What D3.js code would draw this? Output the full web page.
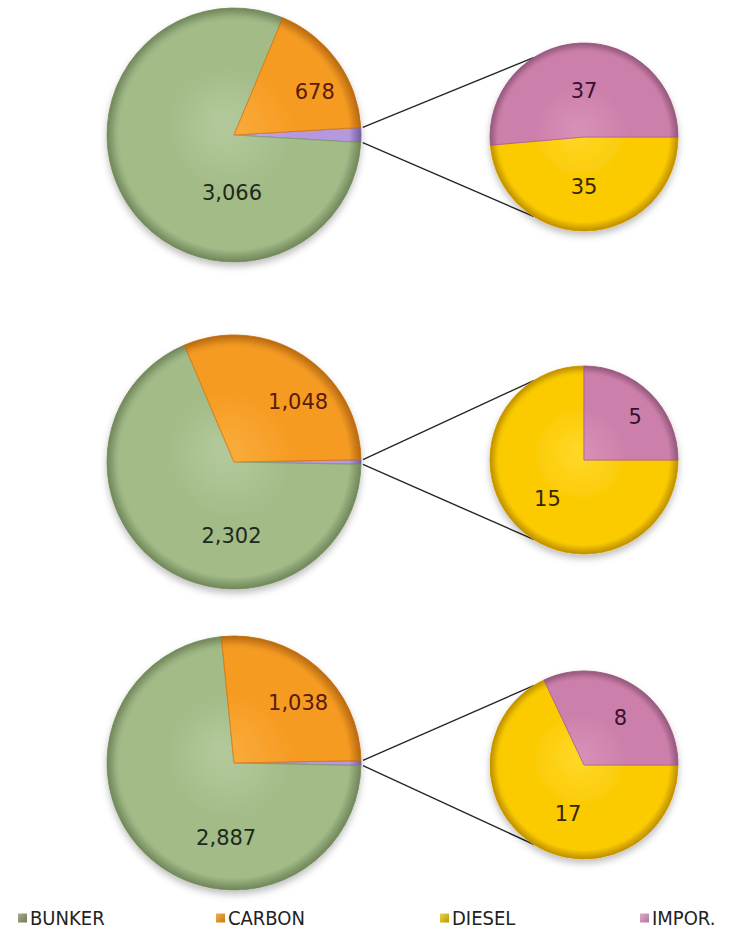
<!DOCTYPE html>
<html>
<head>
<meta charset="utf-8">
<script src="https://cdn.jsdelivr.net/npm/d3@7/dist/d3.min.js"></script>
<style>
  body { margin: 0; background: #ffffff; }
  svg { display: block; }
</style>
</head>
<body>
<svg id="chart" width="748" height="937"></svg>
<script>
// Series values, one entry per pie-of-pie row (top to bottom)
const categories = ["BUNKER", "CARBON", "DIESEL", "IMPOR."];
const bunker = [3066, 2302, 2887];
const carbon = [678, 1048, 1038];
const diesel = [35, 15, 17];
const impor  = [37, 5, 8];

// Look of each category
const palette = {
  "BUNKER": { light: "#b0c797", base: "#a2bb87", dark: "#86a06c", text: "#1e281c", key: ["#a9ad8c", "#73785a"] },
  "CARBON": { light: "#f9a832", base: "#f69b22", dark: "#d97e14", text: "#5a1a0c", key: ["#f2b04a", "#c77818"] },
  "DIESEL": { light: "#ffd61c", base: "#fbcb04", dark: "#e2aa00", text: "#352600", key: ["#ecd24a", "#b89a00"] },
  "IMPOR.": { light: "#d68bb4", base: "#cd7fab", dark: "#b06892", text: "#3a1030", key: ["#e0a8c8", "#b0789c"] },
  "OTHER":  { light: "#c6aae8", base: "#b698de", dark: "#8f70bc", text: "#222222" }
};

// Geometry of the three rows
const rowY = [135, 462, 763];
const main = { cx: 234, r: 127 };
const sec  = { cx: 584, r: 94 };
const secRowY = [137, 460, 765];

// Label placement inside the slices: [angle in degrees, fraction of radius]
const mainLabelPos = [
  { "BUNKER": [182, 0.46], "CARBON": [62, 0.72] },
  { "BUNKER": [182, 0.58], "CARBON": [47, 0.69] },
  { "BUNKER": [186, 0.59], "CARBON": [47, 0.69] }
];
const secLabelPos = [
  { "DIESEL": [180, 0.53], "IMPOR.": [0, 0.49] },
  { "DIESEL": [223, 0.57], "IMPOR.": [50, 0.71] },
  { "DIESEL": [198, 0.55], "IMPOR.": [38, 0.63] }
];

const fmt = d3.format(",");
const svg = d3.select("#chart");
const defs = svg.append("defs");

// soft shadow under each pie
const shadow = defs.append("filter").attr("id", "pieShadow")
  .attr("x", "-20%").attr("y", "-20%").attr("width", "140%").attr("height", "150%");
shadow.append("feDropShadow")
  .attr("dx", 0).attr("dy", 4).attr("stdDeviation", 3.5)
  .attr("flood-color", "#000").attr("flood-opacity", 0.25);

// rim shading laid over each whole pie
const rim = defs.append("radialGradient").attr("id", "rimShade")
  .attr("cx", "50%").attr("cy", "50%").attr("r", "50%");
rim.append("stop").attr("offset", "0%").attr("stop-color", "#fff").attr("stop-opacity", 0.06);
rim.append("stop").attr("offset", "50%").attr("stop-color", "#fff").attr("stop-opacity", 0.0);
rim.append("stop").attr("offset", "90%").attr("stop-color", "#000").attr("stop-opacity", 0.0);
rim.append("stop").attr("offset", "100%").attr("stop-color", "#000").attr("stop-opacity", 0.16);

// gradients are defined in the pie group's own coordinates (centre at 0,0)
function sliceGradient(id, r, c) {
  const g = defs.append("radialGradient").attr("id", id)
    .attr("gradientUnits", "userSpaceOnUse")
    .attr("cx", 0).attr("cy", 0).attr("r", r)
    .attr("fx", -r * 0.1).attr("fy", -r * 0.12);
  g.append("stop").attr("offset", "0%").attr("stop-color", c.light);
  g.append("stop").attr("offset", "50%").attr("stop-color", c.base);
  g.append("stop").attr("offset", "92%").attr("stop-color", c.base);
  g.append("stop").attr("offset", "100%").attr("stop-color", c.dark);
  return `url(#${id})`;
}

function polar(cx, cy, angle, radius) {
  return [cx + radius * Math.sin(angle), cy - radius * Math.cos(angle)];
}

const toRad = d => d * Math.PI / 180;

rowY.forEach((cy, i) => {
  const other = diesel[i] + impor[i];
  const total = bunker[i] + carbon[i] + other;
  const otherSpan = 2 * Math.PI * other / total;
  const start = Math.PI / 2 - otherSpan / 2;

  // main pie: the combined slice is centred at three o'clock
  const mainData = [
    { key: "OTHER", value: other },
    { key: "BUNKER", value: bunker[i] },
    { key: "CARBON", value: carbon[i] }
  ];
  const mainPie = d3.pie().sort(null).value(d => d.value)
    .startAngle(start).endAngle(start + 2 * Math.PI)(mainData);
  const mainArc = d3.arc().innerRadius(0).outerRadius(main.r);

  // secondary pie: breakdown of the combined slice, starting at three o'clock
  const cy2 = secRowY[i];
  const secData = [
    { key: "DIESEL", value: diesel[i] },
    { key: "IMPOR.", value: impor[i] }
  ];
  const secPie = d3.pie().sort(null).value(d => d.value)
    .startAngle(Math.PI / 2).endAngle(Math.PI / 2 + 2 * Math.PI)(secData);
  const secArc = d3.arc().innerRadius(0).outerRadius(sec.r);

  // connector lines from the combined slice to the secondary pie
  const o = mainPie[0];
  const p0 = polar(main.cx, cy, o.startAngle, main.r + 2);
  const p1 = polar(main.cx, cy, o.endAngle, main.r + 2);
  const q0 = polar(sec.cx, cy2, toRad(-32), sec.r);
  const q1 = polar(sec.cx, cy2, toRad(212), sec.r);
  svg.append("g").attr("class", "connectors")
    .selectAll("line").data([[p0, q0], [p1, q1]]).join("line")
    .attr("x1", d => d[0][0]).attr("y1", d => d[0][1])
    .attr("x2", d => d[1][0]).attr("y2", d => d[1][1])
    .attr("stroke", "#262626").attr("stroke-width", 1.4);

  // draw main pie
  const gMain = svg.append("g").attr("transform", `translate(${main.cx},${cy})`);
  const gMainSlices = gMain.append("g").attr("filter", "url(#pieShadow)");
  gMainSlices.selectAll("path").data(mainPie).join("path")
    .attr("d", mainArc)
    .attr("fill", d => sliceGradient(`g${i}-${d.data.key.replace(".", "")}`, main.r, palette[d.data.key]))
    .attr("stroke", d => palette[d.data.key].dark)
    .attr("stroke-width", 1)
    .attr("stroke-linejoin", "round");
  gMain.append("circle").attr("r", main.r).attr("fill", "url(#rimShade)").attr("pointer-events", "none");

  gMain.selectAll("text").data(mainPie.filter(d => d.data.key !== "OTHER")).join("text")
    .attr("x", d => { const p = mainLabelPos[i][d.data.key]; return polar(0, 0, toRad(p[0]), p[1] * main.r)[0]; })
    .attr("y", d => { const p = mainLabelPos[i][d.data.key]; return polar(0, 0, toRad(p[0]), p[1] * main.r)[1]; })
    .attr("text-anchor", "middle").attr("dominant-baseline", "central")
    .attr("font-family", "'DejaVu Sans', sans-serif").attr("font-size", 21)
    .attr("fill", d => palette[d.data.key].text)
    .text(d => fmt(d.data.value));

  // draw secondary pie
  const gSec = svg.append("g").attr("transform", `translate(${sec.cx},${cy2})`);
  const gSecSlices = gSec.append("g").attr("filter", "url(#pieShadow)");
  gSecSlices.selectAll("path").data(secPie).join("path")
    .attr("d", secArc)
    .attr("fill", d => sliceGradient(`s${i}-${d.data.key.replace(".", "")}`, sec.r, palette[d.data.key]))
    .attr("stroke", d => palette[d.data.key].dark)
    .attr("stroke-width", 1)
    .attr("stroke-linejoin", "round");
  gSec.append("circle").attr("r", sec.r).attr("fill", "url(#rimShade)").attr("pointer-events", "none");

  gSec.selectAll("text").data(secPie).join("text")
    .attr("x", d => { const p = secLabelPos[i][d.data.key]; return polar(0, 0, toRad(p[0]), p[1] * sec.r)[0]; })
    .attr("y", d => { const p = secLabelPos[i][d.data.key]; return polar(0, 0, toRad(p[0]), p[1] * sec.r)[1]; })
    .attr("text-anchor", "middle").attr("dominant-baseline", "central")
    .attr("font-family", "'DejaVu Sans', sans-serif").attr("font-size", 21)
    .attr("fill", d => palette[d.data.key].text)
    .text(d => fmt(d.data.value));
});

// legend along the bottom
const legendX = [18, 216, 440, 640];
const legendY = 918;
categories.forEach((c, k) => {
  const lg = defs.append("linearGradient").attr("id", `key${k}`)
    .attr("x1", "0").attr("y1", "0").attr("x2", "1").attr("y2", "1");
  lg.append("stop").attr("offset", "0%").attr("stop-color", palette[c].key[0]);
  lg.append("stop").attr("offset", "100%").attr("stop-color", palette[c].key[1]);
});
const legend = svg.append("g").attr("class", "legend")
  .selectAll("g").data(categories).join("g")
  .attr("transform", (d, k) => `translate(${legendX[k]},${legendY})`);
legend.append("rect")
  .attr("x", 0).attr("y", -4.5).attr("width", 9).attr("height", 9)
  .attr("fill", (d, k) => `url(#key${k})`);
legend.append("text")
  .attr("x", 12).attr("y", 0).attr("dominant-baseline", "central")
  .attr("font-family", "'DejaVu Sans Condensed', 'DejaVu Sans', sans-serif").attr("font-size", 20)
  .attr("fill", "#222")
  .text(d => d);
</script>
</body>
</html>
